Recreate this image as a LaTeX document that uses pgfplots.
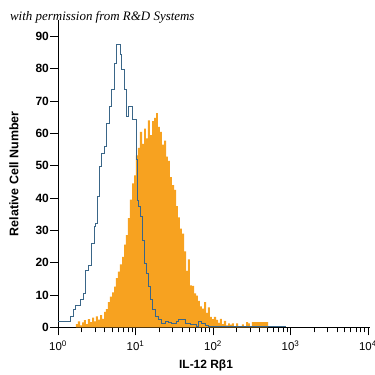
\documentclass[border=0pt]{standalone}
\usepackage{pgfplots}
\pgfplotsset{compat=1.18}
\usepackage{fontspec}
\setmainfont{Liberation Sans}
\newfontfamily\titlefont{Liberation Serif}
\definecolor{historange}{RGB}{247,162,32}
\definecolor{isoblue}{RGB}{58,102,136}
\begin{document}
\begin{tikzpicture}
\begin{axis}[
  scale only axis,
  width=312.3bp, height=307bp,
  xmin=0, xmax=4.03, ymin=0, ymax=95,
  axis x line=bottom, axis y line=left,
  axis line style={-, black, line width=0.7pt},
  tick align=outside,
  major tick length=8bp, minor tick length=5bp,
  tick style={black, line width=0.6pt},
  xtick={0,1,2,3,4},
  xticklabels={10\textsuperscript{0},10\textsuperscript{1},10\textsuperscript{2},10\textsuperscript{3},10\textsuperscript{4}},
  minor xtick={0.301,0.477,0.602,0.699,0.778,0.845,0.903,0.954,
               1.301,1.477,1.602,1.699,1.778,1.845,1.903,1.954,
               2.301,2.477,2.602,2.699,2.778,2.845,2.903,2.954,
               3.301,3.477,3.602,3.699,3.778,3.845,3.903,3.954},
  ytick={0,10,20,30,40,50,60,70,80,90},
  yticklabel style={font=\fontsize{12}{14}\selectfont\bfseries, inner sep=1pt},
  xticklabel style={font=\fontsize{11.5}{14}\selectfont, yshift=-2bp},
  /pgf/number format/assume math mode=true,
  xlabel={IL-12 Rβ1},
  ylabel={Relative Cell Number},
  xlabel style={font=\fontsize{12}{14}\selectfont\bfseries, at={(axis description cs:0.474,-0.123)}, anchor=center},
  ylabel style={font=\fontsize{12.5}{14}\selectfont\bfseries, at={(axis description cs:-0.141,0.5)}, anchor=center},
  clip=false,
]
\coordinate (bl) at (rel axis cs:0,0);
\addplot[const plot, fill=historange, draw=none] coordinates {
(0.232,1.0)(0.258,1.8)(0.284,0.6)(0.310,1.5)(0.335,2.2)(0.361,1.0)(0.387,2.5)(0.413,1.6)
(0.439,3.0)(0.465,1.8)(0.490,3.4)(0.516,2.4)(0.542,3.8)(0.568,2.6)(0.594,4.8)(0.619,5.6)
(0.645,7.8)(0.671,9.5)(0.697,10.8)(0.723,12.6)(0.748,15.2)(0.774,17.2)(0.800,19.5)(0.826,21.8)
(0.852,25.6)(0.877,28.5)(0.903,33.8)(0.929,39.5)(0.955,44.5)(0.981,47.0)(1.006,53.2)(1.032,55.5)
(1.058,60.5)(1.084,56.8)(1.110,61.5)(1.135,58.5)(1.161,64.0)(1.187,59.5)(1.213,63.8)(1.239,64.8)
(1.265,66.3)(1.290,62.0)(1.316,60.5)(1.342,56.5)(1.368,57.8)(1.394,52.8)(1.419,51.5)(1.445,46.5)
(1.471,44.0)(1.497,42.5)(1.523,37.5)(1.548,34.0)(1.574,30.5)(1.600,29.0)(1.626,23.5)(1.652,17.5)
(1.677,21.0)(1.703,13.0)(1.729,12.8)(1.755,10.5)(1.781,9.8)(1.806,8.2)(1.832,6.5)(1.858,5.8)
(1.884,7.8)(1.910,4.5)(1.935,6.2)(1.961,3.2)(1.987,2.5)(2.013,3.2)(2.039,2.3)(2.065,1.4)
(2.090,2.6)(2.116,1.0)(2.142,2.0)(2.168,0.6)(2.194,1.2)(2.219,0.8)(2.245,1.2)(2.271,0.3)
(2.297,1.2)(2.323,0.4)(2.348,0.3)(2.374,0.9)(2.400,0.4)(2.426,1.6)(2.452,1.2)(2.477,0.3)
(2.503,1.6)(2.710,0)
} \closedcycle;
\addplot[const plot, draw=isoblue, line width=0.85pt] coordinates {
(0,1.7)(0.155,3.3)(0.197,5.4)(0.228,6.9)(0.284,8.5)(0.326,10.5)(0.357,17.7)(0.391,19.3)
(0.435,26)(0.468,31.1)(0.486,32.2)(0.512,40.4)(0.533,49.7)(0.564,53.9)(0.594,55.9)(0.628,63.2)
(0.658,68.3)(0.693,73.5)(0.726,81.7)(0.757,87.4)(0.800,84.3)(0.822,79.7)(0.852,73.5)(0.877,65.2)
(0.907,68.3)(0.955,64.2)(1.006,51.8)(1.019,39.4)(1.036,37.3)(1.058,34.2)(1.088,27)(1.114,19.8)
(1.145,16.7)(1.165,12.6)(1.196,8.5)(1.222,5.4)(1.252,3.3)(1.294,2.3)(1.338,1.2)(1.381,1.7)
(1.423,1.5)(1.467,1.2)(1.532,1.7)(1.552,2.5)(1.596,2.3)(1.639,1.2)(1.703,0.8)(1.790,0.3)
(1.810,1.7)(1.854,1.2)(1.897,0.5)(1.935,0.3)(2.929,0)
};
\node[anchor=base west, font=\titlefont\itshape\fontsize{13}{15}\selectfont, inner sep=0pt]
  at (axis description cs:-0.154,1.001) {with permission from R\&D Systems};
\end{axis}
\pgfresetboundingbox
\path[use as bounding box] (bl) ++(-58bp,-47.7bp) rectangle ++(375bp,375bp);
\end{tikzpicture}
\end{document}
